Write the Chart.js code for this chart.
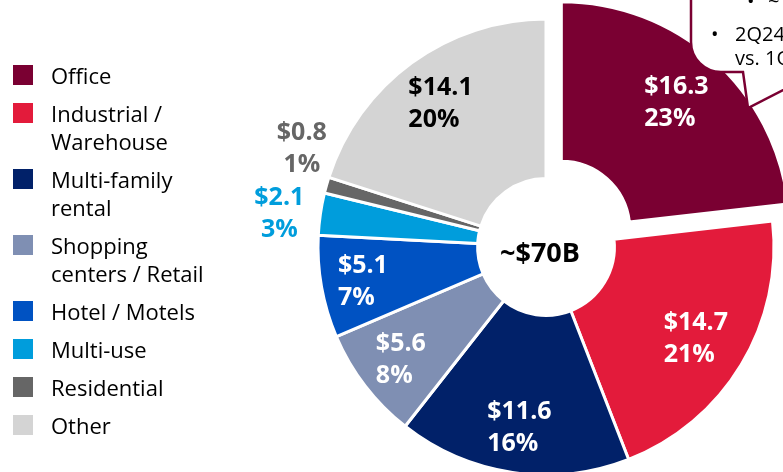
<!DOCTYPE html>
<html><head><meta charset="utf-8">
<script src="https://cdn.jsdelivr.net/npm/chart.js@4.4.1/dist/chart.umd.min.js"></script>
<style>
html,body{margin:0;padding:0;background:#fff;overflow:hidden;width:783px;height:472px;}
#wrap{position:relative;width:783px;height:472px;overflow:hidden;}
canvas{position:absolute;left:0;top:0;}
#legend{position:absolute;left:13px;top:61px;font-family:"Open Sans",sans-serif;font-size:22px;color:#000;}
.item{display:flex;align-items:flex-start;line-height:28px;margin-bottom:10px;white-space:nowrap;}
.sw{width:20px;height:20px;margin-top:4px;margin-right:18px;flex:none;}
#callout{position:absolute;left:0;top:0;}
</style></head>
<body><div id="wrap"><canvas id="c" width="783" height="472"></canvas><div id="legend"></div>
<svg id="callout" width="783" height="472" xmlns="http://www.w3.org/2000/svg">
<path d="M 691 -10 L 691 42 A 30 30 0 0 0 721 72 L 743 72 L 748 108 L 795 84 L 795 -10 Z" fill="#fff" stroke="#7A0032" stroke-width="2.5" stroke-linejoin="miter"/>
<g font-family="Open Sans, sans-serif" font-size="20" fill="#000">
<text x="747" y="8">•</text><text x="768" y="8">~</text>
<text x="711" y="41">•</text><text x="735" y="41">2Q24</text>
<text x="735" y="65">vs. 1Q24</text>
</g>
</svg>
</div>
<script>
// ---- data ----
const categories = [["Office"],["Industrial /","Warehouse"],["Multi-family","rental"],["Shopping","centers / Retail"],["Hotel / Motels"],["Multi-use"],["Residential"],["Other"]];
const values = [16.3, 14.7, 11.6, 5.6, 5.1, 2.1, 0.8, 14.1];
const percentLabels = ["23%","21%","16%","8%","7%","3%","1%","20%"];
const totalLabel = "~$70B";
// ---- styles ----
const colors = ["#7A0032","#E31B3B","#012169","#7F8FB3","#0052C2","#009DDC","#666666","#D4D4D4"];
const labelColors = ["#fff","#fff","#fff","#fff","#fff","#009DDC","#666666","#000"];
const labelInside = [true,true,true,true,true,false,false,true];
const labelRadius = [196,175,181,183,186,269,264,179];
const labelAngleShift = [0,0,0,0,0,-0.8,6.6,0];

const legend = document.getElementById('legend');
categories.forEach((c,i)=>{
  const it = document.createElement('div'); it.className='item';
  const sw = document.createElement('div'); sw.className='sw'; sw.style.background=colors[i];
  const tx = document.createElement('div'); tx.innerHTML = c.join('<br>');
  it.appendChild(sw); it.appendChild(tx); legend.appendChild(it);
});

const labelPlugin = {
  id:'sliceLabels',
  afterDatasetsDraw(chart){
    const ctx = chart.ctx;
    const meta = chart.getDatasetMeta(0);
    ctx.save();
    const fs = 25, lh = 32;
    ctx.font = 'bold '+fs+'px "Open Sans"';
    ctx.textBaseline = 'alphabetic';
    meta.data.forEach((arc,i)=>{
      const p = arc.getProps(['x','y','startAngle','endAngle'], true);
      const mid = (p.startAngle+p.endAngle)/2 + labelAngleShift[i]*Math.PI/180;
      const r = labelRadius[i];
      const cx = p.x + Math.cos(mid)*r, cy = p.y + Math.sin(mid)*r;
      const lines = ['$'+values[i].toFixed(1), percentLabels[i]];
      ctx.fillStyle = labelColors[i];
      const base = k => cy + (k-0.5)*lh + fs*0.357;
      if(labelInside[i]){
        const w = Math.max(...lines.map(l=>ctx.measureText(l).width));
        ctx.textAlign='left';
        lines.forEach((l,k)=>ctx.fillText(l, cx - w/2, base(k)));
      } else {
        ctx.textAlign='center';
        lines.forEach((l,k)=>ctx.fillText(l, cx, base(k)));
      }
    });
    const c0 = meta.data[0];
    ctx.fillStyle='#000'; ctx.textAlign='center'; ctx.font='bold 27px "Open Sans"';
    ctx.fillText(totalLabel, c0.x - 6, c0.y + 5 + 27*0.357);
    ctx.restore();
  }
};

new Chart(document.getElementById('c'), {
  type:'doughnut',
  data:{labels: categories, datasets:[{data: values, backgroundColor: colors, borderColor:'#fff', borderWidth:3,
    offset: values.map((v,i)=> i===0 ? 92 : 0), clip:false}]},
  options:{responsive:false, animation:false, radius:228, cutout:'30%', rotation:0,
    layout:{padding:{left:309,right:0,top:22,bottom:0}},
    plugins:{legend:{display:false}, tooltip:{enabled:false}}},
  plugins:[labelPlugin]
});
</script>
</body></html>
